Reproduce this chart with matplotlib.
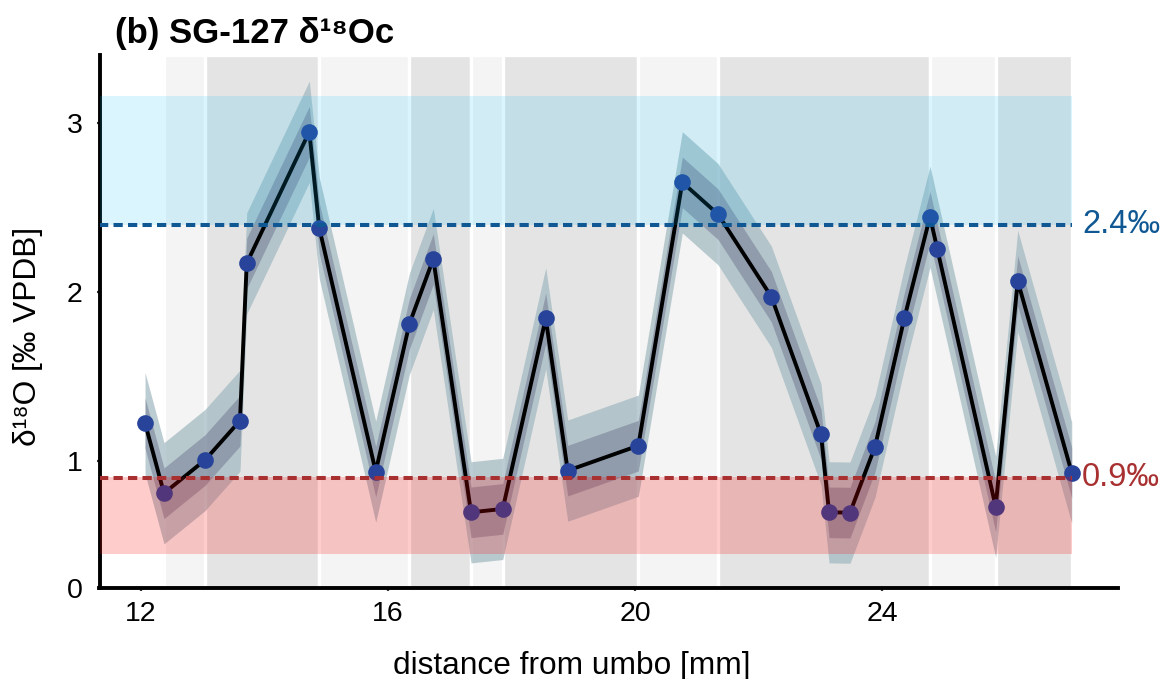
import numpy as np
import matplotlib
matplotlib.use('Agg')
from matplotlib import pyplot as plt

plt.rcParams['font.family'] = ['Liberation Sans', 'DejaVu Sans']

# distance from umbo [mm] and calcite d18O [permil VPDB]
dist = [12.065, 12.372, 13.036, 13.602, 13.711, 14.724, 14.886, 15.799, 16.343, 16.731,
        17.342, 17.855, 18.551, 18.907, 20.050, 20.762, 21.340, 22.203, 23.007, 23.137,
        23.476, 23.881, 24.355, 24.771, 24.889, 25.834, 26.191, 27.065]
d18o = [1.223, 0.807, 1.004, 1.237, 2.170, 2.950, 2.378, 0.935, 1.810, 2.196,
        0.694, 0.714, 1.844, 0.941, 1.089, 2.650, 2.461, 1.972, 1.156, 0.694,
        0.692, 1.083, 1.844, 2.446, 2.255, 0.727, 2.065, 0.929]
sd_1 = 0.15   # 1 sigma
sd_2 = 0.30   # 2 sigma

# growth band edges (alternating light / dark)
band_edges = [12.372, 13.036, 14.886, 16.343, 17.342, 17.855, 20.050, 21.340, 24.771, 25.834, 27.065]

# reference ranges
cold_lo, cold_hi = 2.40, 3.16
warm_lo, warm_hi = 0.445, 0.905
cold_line = 2.4
warm_line = 0.9

xticks = [12, 16, 20, 24]
xmin, xmax = 11.328, 27.814
ymin, ymax = 0.247, 3.405

blue = '#0f5894'
red = '#a83030'

x = np.array(dist)
y = np.array(d18o)

fig = plt.figure(figsize=(11.63, 6.79), dpi=100)
ax = fig.add_axes([99.5 / 1163, 1 - 587.7 / 679, (1118 - 99.5) / 1163, (587.7 - 55) / 679])

for i in range(len(band_edges) - 1):
    c = '#f4f4f4' if i % 2 == 0 else '#e4e4e4'
    ax.axvspan(band_edges[i], band_edges[i + 1], facecolor=c, edgecolor='white', lw=2.4, zorder=0)

ax.fill_between(x, y - sd_2, y + sd_2, color='#9fb7bf', alpha=0.7, lw=0, zorder=1)
ax.fill_between(x, y - sd_1, y + sd_1, color='#6f768f', alpha=0.5, lw=0, zorder=2)
ax.plot(x, y, color='black', lw=2.8, zorder=3)
ax.plot(x, y, 'o', color='#27449a', ms=12, mew=0, zorder=4)

x0 = xmin
ax.fill_between([x0, x[-1]], cold_lo, cold_hi, color='#00bfff', alpha=0.14, lw=0, zorder=5)
ax.fill_between([x0, x[-1]], warm_lo, warm_hi, color='#ff0000', alpha=0.2, lw=0, zorder=5)
ax.plot([x0, x[-1]], [cold_line, cold_line], color=blue, lw=2.9, ls=(0, (2.3, 1.3)), zorder=6)
ax.plot([x0, x[-1]], [warm_line, warm_line], color=red, lw=2.9, ls=(0, (2.3, 1.3)), zorder=6)
ax.text(x[-1] + 0.17, cold_line, f'{cold_line}‰', color=blue, fontsize=23.5, va='center', ha='left', clip_on=False)
ax.text(x[-1] + 0.17, warm_line, f'{warm_line}‰', color=red, fontsize=23.5, va='center', ha='left', clip_on=False)

ax.set_xlim(xmin, xmax)
ax.set_ylim(ymin, ymax)
ax.set_xticks(xticks)
ax.set_xticklabels([str(t) for t in xticks])
ax.set_yticks([ymin, 1, 2, 3])
ax.set_yticklabels(['0', '1', '2', '3'])
ax.yaxis.get_major_ticks()[0].tick1line.set_visible(False)
ax.tick_params(axis='both', labelsize=20.5, length=2.4, width=1.6, color='#333333')
ax.tick_params(axis='x', pad=7)
ax.tick_params(axis='y', pad=10)

for s in ['top', 'right']:
    ax.spines[s].set_visible(False)
for s in ['left', 'bottom']:
    ax.spines[s].set_linewidth(2.8)
    ax.spines[s].set_color('black')

ax.set_xlabel('distance from umbo [mm]', fontsize=22.8)
ax.xaxis.set_label_coords(0.4637, -0.118)
ax.set_ylabel('δ¹⁸O [‰ VPDB]', fontsize=22.8)
ax.yaxis.set_label_coords(-0.055, 0.472)

fig.text(115 / 1163, 1 - 43 / 679, '(b) SG-127 δ¹⁸Oc', fontsize=25, fontweight='bold', va='baseline', ha='left')

fig.savefig('out.png', dpi=100)
